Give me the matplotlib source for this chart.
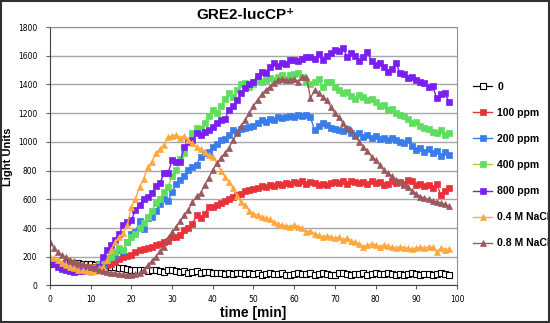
import matplotlib
matplotlib.use("Agg")
import matplotlib.pyplot as plt
from matplotlib.patches import Rectangle

time_min = list(range(0, 99))

zero = [150,155,148,152,160,158,150,155,152,150,
        148,145,150,140,140,132,130,125,120,115,
        110,108,105,110,100,108,110,100,95,105,
        108,100,95,102,90,96,100,88,92,96,
        85,90,88,82,85,80,86,90,78,85,
        82,88,75,80,85,78,82,90,75,70,
        80,85,78,82,88,75,80,86,78,70,
        72,90,88,82,75,80,78,85,72,80,
        85,78,80,90,82,76,80,72,78,85,
        80,75,82,78,72,80,85,78,75]

ppm100 = [160,155,150,148,145,140,138,135,130,128,
          125,128,132,138,145,150,165,185,200,205,
          215,230,245,255,262,270,280,290,300,310,
          335,340,350,385,400,430,490,470,500,545,
          550,560,575,590,600,615,630,640,655,665,
          670,680,690,685,700,695,705,700,715,710,
          720,715,725,710,720,715,700,705,700,712,
          720,715,725,710,730,720,715,720,710,725,
          715,720,700,710,725,715,720,705,735,730,
          700,710,690,700,680,710,630,660,680]

ppm200 = [175,165,150,140,130,120,115,112,110,110,
          112,115,120,140,175,190,210,250,240,300,
          360,370,450,390,470,480,520,570,600,590,
          650,710,735,760,805,828,840,898,920,930,
          967,985,1010,1020,1050,1084,1070,1090,1100,1107,
          1110,1130,1153,1140,1160,1150,1176,1165,1170,1180,
          1175,1185,1180,1188,1170,1084,1110,1130,1120,1100,
          1090,1084,1075,1090,1060,1050,1060,1037,1045,1030,
          1040,1020,1030,1010,1030,1014,1000,990,1010,970,
          944,960,930,950,920,940,900,930,909]

ppm400 = [165,155,140,125,110,100,95,100,105,110,
          115,125,150,175,190,201,230,260,247,300,
          340,360,400,433,480,520,573,600,650,688,
          760,805,880,921,1000,1060,1100,1090,1130,1180,
          1223,1200,1250,1300,1339,1310,1360,1400,1409,1380,
          1400,1430,1420,1432,1445,1430,1450,1467,1440,1467,
          1470,1480,1450,1420,1400,1420,1440,1380,1420,1420,
          1380,1362,1340,1350,1320,1300,1327,1310,1290,1300,
          1281,1250,1260,1220,1230,1200,1190,1180,1160,1130,
          1140,1110,1100,1090,1072,1060,1080,1050,1060]

ppm800 = [160,150,130,115,105,100,95,100,98,102,
          108,115,130,200,247,280,317,360,420,445,
          456,526,560,600,619,642,690,712,782,780,
          875,863,860,967,1000,1014,1060,1050,1070,1080,
          1107,1130,1150,1160,1223,1250,1290,1340,1374,1400,
          1420,1460,1490,1480,1520,1548,1530,1550,1540,1571,
          1571,1560,1580,1594,1590,1580,1610,1571,1600,1620,
          1641,1630,1653,1594,1618,1600,1560,1590,1629,1560,
          1537,1548,1520,1490,1510,1548,1479,1470,1444,1455,
          1430,1420,1410,1385,1390,1304,1330,1340,1281]

nacl04 = [200,190,175,160,145,130,120,110,105,98,
          96,100,120,131,180,247,300,340,364,420,
          549,600,688,740,828,860,921,950,980,1037,
          1040,1049,1030,1040,1014,990,967,950,930,910,
          898,850,800,758,720,680,620,580,560,520,
          500,490,480,470,460,440,430,420,415,410,
          420,410,400,375,380,360,350,340,345,340,
          330,335,320,329,310,300,290,270,280,290,
          282,270,282,275,265,260,270,262,259,255,
          260,265,258,270,265,235,260,250,255]

nacl08 = [305,260,230,210,195,180,170,160,150,140,
          130,120,110,100,95,90,85,80,78,75,
          75,78,85,108,140,170,201,240,270,330,
          370,410,450,490,526,580,620,642,700,750,
          805,851,890,921,960,1014,1060,1110,1153,1200,
          1250,1293,1330,1360,1385,1410,1432,1440,1430,1432,
          1440,1420,1450,1455,1304,1362,1340,1316,1290,1246,
          1200,1170,1130,1100,1084,1040,1000,967,940,898,
          875,840,805,782,760,735,720,700,688,660,
          640,619,610,600,590,584,575,565,555]

labels = ["0", "100 ppm", "200 ppm", "400 ppm", "800 ppm", "0.4 M NaCl", "0.8 M NaCl"]
x_ticks = list(range(0, 101, 10))
y_ticks = list(range(0, 1801, 200))

fig = plt.figure(figsize=(5.5, 3.23), dpi=100)
ax = fig.add_axes([0.0909, 0.1161, 0.74, 0.8003])

styles = [
    dict(color="black", marker="s", mfc="white", mec="black", ms=4.2, mew=0.8, lw=0.9),
    dict(color="#e8323a", marker="s", mfc="#e8323a", mec="#e8323a", ms=4.2, mew=0.5, lw=1.0),
    dict(color="#3a7de8", marker="s", mfc="#3a7de8", mec="#3a7de8", ms=4.2, mew=0.5, lw=1.0),
    dict(color="#9ed040", marker="s", mfc="#5ede5e", mec="#5ede5e", ms=4.2, mew=0.5, lw=1.0),
    dict(color="#7a1ff0", marker="s", mfc="#7a1ff0", mec="#7a1ff0", ms=4.2, mew=0.5, lw=1.0),
    dict(color="#ffa840", marker="^", mfc="#ffa840", mec="#ffa840", ms=4.5, mew=0.5, lw=1.0),
    dict(color="#9a5a5e", marker="^", mfc="#9a5a5e", mec="#9a5a5e", ms=4.5, mew=0.5, lw=1.0),
]
series = [zero, ppm100, ppm200, ppm400, ppm800, nacl04, nacl08]
for vals, lab, st in zip(series, labels, styles):
    ax.plot(time_min, vals, label=lab, **st)

ax.set_xlim(0, 100)
ax.set_ylim(0, 1800)
ax.set_xticks(x_ticks)
ax.set_yticks(y_ticks)
ax.yaxis.grid(True, color="#a8a8a8", lw=1.0)
ax.set_axisbelow(True)
for s in ["top", "right"]:
    ax.spines[s].set_color("#909090")
for s in ["left", "bottom"]:
    ax.spines[s].set_color("#404040")
ax.tick_params(axis="both", labelsize=5.5, length=3, color="#606060")
ax.tick_params(axis="y", pad=6)
ax.tick_params(axis="x", pad=4)

ax.set_xlabel("time [min]", fontsize=10, fontweight="bold", family="Liberation Sans", labelpad=1)
ax.set_ylabel("Light Units", fontsize=8, fontweight="bold", family="Liberation Sans")
ax.yaxis.set_label_coords(-0.092, 0.5)
fig.text(0.447, 0.955, "GRE2-lucCP\u207a", ha="center", va="center", fontsize=11,
         fontweight="bold", family=["Liberation Sans", "DejaVu Sans"])

leg = ax.legend(loc="upper left", bbox_to_anchor=(1.03, 0.805), frameon=False,
                prop=dict(family="Liberation Sans", weight="bold", size=7.5),
                handlelength=1.8, labelspacing=1.55, handletextpad=0.5, borderaxespad=0)

fig.patches.append(Rectangle((0.001, 0.002), 0.997, 0.995, transform=fig.transFigure,
                             fill=False, edgecolor="#303030", lw=1.5))

fig.savefig("out.png", dpi=100)
